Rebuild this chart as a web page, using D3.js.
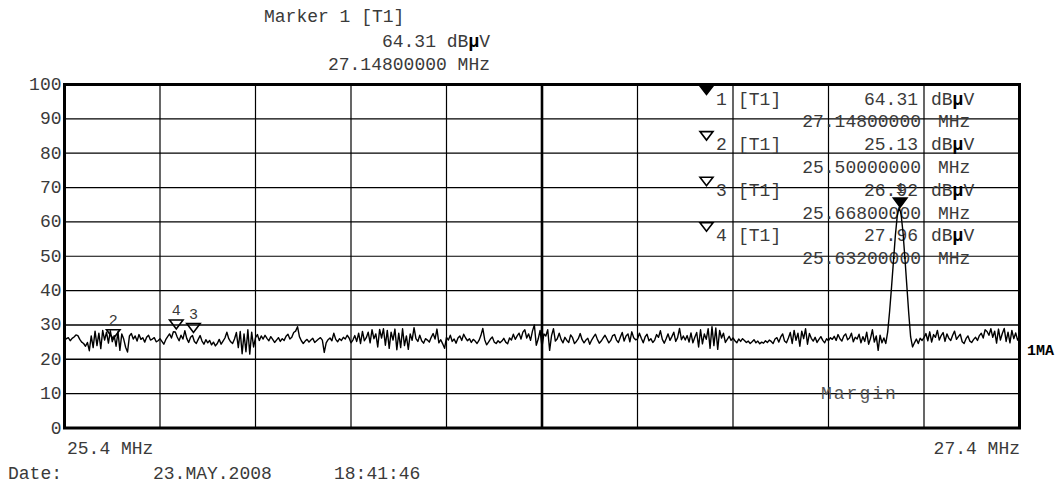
<!DOCTYPE html>
<html><head><meta charset="utf-8">
<script src="https://cdn.jsdelivr.net/npm/d3@7"></script>
<style>
body{margin:0;background:#fff}
text{font-family:"Liberation Mono","DejaVu Sans Mono",monospace;}
</style>
</head><body>
<svg id="c" width="1064" height="483"></svg>
<script>
// ---- data ----
const startMHz = 25.4, stopMHz = 27.4, stepMHz = 0.004;
const levels = [
25.6,26.0,26.3,25.4,26.1,26.5,27.1,26.9,25.8,25.0,24.6,23.8,24.9,22.5,26.8,23.4,28.2,24.0,27.6,23.1,28.4,25.6,27.9,24.7,28.3,
25.13,26.9,23.8,28.0,22.6,27.4,25.9,23.5,22.1,26.8,27.5,25.9,26.8,25.3,27.2,25.8,26.3,25.0,26.4,27.0,25.6,25.9,26.3,25.1,25.4,
26.0,25.2,24.4,25.7,26.6,27.4,26.2,28.0,27.96,26.5,25.4,27.0,25.9,28.3,26.1,24.9,26.4,26.92,25.2,24.6,25.8,26.9,25.3,24.4,25.7,
24.8,25.5,24.2,25.0,23.9,24.6,25.8,24.4,25.3,26.2,27.9,26.0,25.1,24.6,25.9,27.8,23.4,28.1,21.6,27.4,22.2,28.6,21.5,27.9,23.6,
26.3,27.2,25.5,26.8,25.9,27.0,26.1,25.4,26.6,25.8,24.9,25.6,26.3,25.2,26.0,25.5,26.7,27.3,25.9,26.4,27.8,28.2,29.5,26.6,25.4,
24.6,25.3,25.8,25.0,25.6,26.1,24.9,25.4,25.9,26.3,25.6,22.0,24.8,25.7,26.2,25.4,27.6,25.8,25.1,26.0,25.5,26.4,25.9,27.0,26.2,
24.8,25.6,26.9,25.2,27.6,24.6,28.1,25.4,26.3,27.9,24.8,28.6,26.0,27.4,23.6,28.7,26.2,28.9,24.1,28.4,23.2,27.9,25.6,28.8,22.8,
27.6,23.4,28.9,24.0,26.8,22.9,27.4,25.5,29.2,26.0,25.2,27.0,25.4,24.7,26.0,25.6,25.0,26.4,27.5,25.9,28.8,24.8,25.7,24.5,23.2,
26.4,25.6,27.0,25.2,25.9,24.7,26.2,26.8,25.5,27.3,26.2,25.4,26.0,24.9,25.8,25.3,24.6,25.5,26.9,29.0,25.7,24.2,25.0,25.9,26.5,
25.0,24.6,25.4,24.8,25.3,26.1,25.0,24.5,26.2,25.6,27.3,25.8,26.8,27.6,25.9,27.9,28.6,26.2,27.4,25.5,28.2,30.0,24.1,25.9,28.4,
23.6,27.4,26.8,28.6,22.6,26.9,28.9,25.3,26.0,27.6,25.8,24.8,26.4,25.5,24.9,27.1,26.3,24.6,25.2,26.0,27.5,25.7,24.8,25.6,26.1,
24.4,25.6,26.5,27.3,25.8,24.7,25.3,26.2,27.0,25.9,24.8,25.5,26.9,27.2,25.6,24.9,26.4,27.8,25.3,26.8,27.4,25.1,28.0,26.3,25.7,
25.9,27.6,26.1,24.8,26.5,27.3,25.4,26.0,24.9,25.6,27.2,26.4,28.3,25.8,24.7,26.0,27.4,25.5,26.6,27.9,25.2,26.3,29.0,25.7,26.8,
25.6,26.9,25.0,27.7,24.8,26.4,27.8,23.6,28.6,24.5,27.4,25.8,28.9,23.2,29.5,24.0,29.1,22.9,28.4,26.2,27.6,24.9,25.8,26.7,25.5,
26.2,25.4,24.8,25.9,25.2,26.0,25.5,24.9,25.3,24.6,25.1,25.7,24.8,25.3,24.5,25.0,24.7,25.4,24.9,25.6,25.2,24.6,25.9,26.3,25.0,
26.5,27.4,25.3,24.8,26.2,27.8,24.6,28.4,25.5,27.6,23.8,28.2,26.0,28.9,24.4,27.5,26.1,25.3,26.4,24.9,25.8,26.6,25.5,24.8,26.0,
25.4,26.3,25.8,26.7,25.5,27.2,26.0,25.3,26.8,27.4,25.7,26.2,27.6,25.1,26.4,25.9,27.3,24.8,26.6,25.2,27.9,24.4,26.1,28.6,25.0,
26.8,22.6,27.0,24.8,26.2,24.6,28.0,34.0,41.0,48.5,56.0,61.8,64.31,62.2,57.0,49.5,41.5,33.5,26.5,23.6,24.8,25.9,24.6,26.1,25.5,
26.3,27.5,25.4,28.0,25.0,27.2,26.4,28.4,25.6,26.9,27.8,25.2,27.4,26.1,25.5,27.0,28.2,25.8,26.6,27.3,25.1,24.6,26.0,26.8,25.3,
24.9,25.8,26.4,25.5,26.9,27.6,26.2,28.6,28.1,27.0,28.9,26.4,28.2,24.7,28.8,25.6,27.5,29.0,25.2,27.9,24.8,28.4,26.0,27.7,25.6,
26.4
];
const yTicks = [0,10,20,30,40,50,60,70,80,90,100];
const xDivisions = [0,1,2,3,4,5,6,7,8,9,10];
const markerIds = [1,2,3,4];
const markerFreqs = [27.148, 25.5, 25.668, 25.632];
const markerLevels = [64.31, 25.13, 26.92, 27.96];
const markerFilled = [true,false,false,false];
const traceName = "[T1]";
const startLabel = "25.4 MHz", stopLabel = "27.4 MHz";
const dateLabel = "Date:", dateValue = "23.MAY.2008", timeValue = "18:41:46";
const sideLabel = "1MA", marginLabel = "Margin";

// ---- layout ----
const svg = d3.select("#c");
const L = 64.5, R = 1019.5, T = 84.5, B = 428;
const x = d3.scaleLinear().domain([startMHz, stopMHz]).range([L, R]);
const y = d3.scaleLinear().domain([0, 100]).range([B, T]);
const txt = "#3a3a3a";
const FS = 18;

// grid
const g = svg.append("g");
g.selectAll("line.h").data(yTicks.slice(1, -1)).join("line")
  .attr("x1", L).attr("x2", R).attr("y1", d => y(d)).attr("y2", d => y(d))
  .attr("stroke", "#000").attr("stroke-width", d => (d === 20 || d === 30) ? 1.6 : 1.2);
g.selectAll("line.v").data(xDivisions.slice(1, -1)).join("line")
  .attr("y1", T).attr("y2", B)
  .attr("x1", d => x(startMHz + d * (stopMHz - startMHz) / 10))
  .attr("x2", d => x(startMHz + d * (stopMHz - startMHz) / 10))
  .attr("stroke", "#000").attr("stroke-width", d => d === 5 ? 2.6 : 1.2);

// y axis labels
const ya = svg.append("g").attr("transform", `translate(${L},0)`)
  .call(d3.axisLeft(y).tickValues(yTicks).tickSize(0).tickPadding(3));
ya.select(".domain").remove();
ya.selectAll("text").attr("font-family", '"Liberation Mono",monospace')
  .attr("font-size", FS).attr("fill", txt).attr("dy", "0.28em");

// marker table
const rowH = 22.8, row0 = 98.5;
const tri = (cx, tipY, w, h) => `M${cx - w / 2},${tipY - h}L${cx + w / 2},${tipY - h}L${cx},${tipY}Z`;
markerIds.forEach((id, m) => {
  const ya1 = row0 + m * 2 * rowH, ya2 = ya1 + rowH;
  svg.append("path").attr("d", tri(706.5, ya1 - 4, 13, 8.5))
    .attr("fill", markerFilled[m] ? "#000" : "#fff").attr("stroke", "#000").attr("stroke-width", 1.6);
  const t = (s, xx, yy, anchor) => svg.append("text").attr("x", xx).attr("y", yy + 6)
    .attr("font-size", FS).attr("fill", txt).attr("text-anchor", anchor || "start").text(s);
  t(String(id), 716, ya1);
  t(traceName, 738, ya1);
  t(markerLevels[m].toFixed(2), 918, ya1, "end");
  const u = svg.append("text").attr("x", 931).attr("y", ya1 + 6).attr("font-size", FS).attr("fill", txt);
  u.append("tspan").text("dB");
  u.append("tspan").attr("font-weight", "bold").attr("fill", "#000").text("\u00b5");
  u.append("tspan").text("V");
  t(markerFreqs[m].toFixed(8), 921, ya2, "end");
  t("MHz", 938, ya2);
});

// trace
const line = d3.line().x((d, i) => x(startMHz + i * stepMHz)).y(d => y(d));
svg.append("path").datum(levels).attr("d", line)
  .attr("fill", "none").attr("stroke", "#000").attr("stroke-width", 1.4).attr("stroke-linejoin", "round");

// markers on trace
markerIds.forEach((id, m) => {
  const cx = x(markerFreqs[m]) + 1, tip = y(markerLevels[m]) - (m === 0 ? 0 : 3);
  svg.append("path").attr("d", tri(cx, tip, 13.5, 9))
    .attr("fill", markerFilled[m] ? "#000" : "none").attr("stroke", "#000").attr("stroke-width", 1.6);
  svg.append("text").attr("x", cx).attr("y", tip - 14).attr("text-anchor", "middle")
    .attr("font-size", 15).attr("fill", txt).text(String(id));
});

// frame
svg.append("rect").attr("x", L).attr("y", T).attr("width", R - L).attr("height", B - T)
  .attr("fill", "none").attr("stroke", "#000").attr("stroke-width", 3);

// header
const hdr = (s, xx, yy, anchor) => svg.append("text").attr("x", xx).attr("y", yy)
  .attr("font-size", FS).attr("fill", txt).attr("text-anchor", anchor || "start").text(s);
hdr("Marker " + markerIds[0] + " " + traceName, 264, 21.5);
const h2 = svg.append("text").attr("x", 490).attr("y", 46.5).attr("text-anchor", "end")
  .attr("font-size", FS).attr("fill", txt);
h2.append("tspan").text(markerLevels[0].toFixed(2) + " dB");
h2.append("tspan").attr("font-weight", "bold").attr("fill", "#000").text("\u00b5");
h2.append("tspan").text("V");
hdr(markerFreqs[0].toFixed(8) + " MHz", 490, 69.5, "end");

// bottom labels
hdr(startLabel, 67, 454);
hdr(stopLabel, 1020, 454, "end");
hdr(dateLabel, 8, 479);
hdr(dateValue, 153, 479);
hdr(timeValue, 334, 479);
svg.append("text").attr("x", 821).attr("y", 399).attr("font-size", FS).attr("fill", "#555")
  .attr("letter-spacing", 2).text(marginLabel);
svg.append("text").attr("x", 1027).attr("y", 355).attr("font-size", 15).attr("font-weight", "bold")
  .attr("fill", "#000").text(sideLabel);
</script>
</body></html>
